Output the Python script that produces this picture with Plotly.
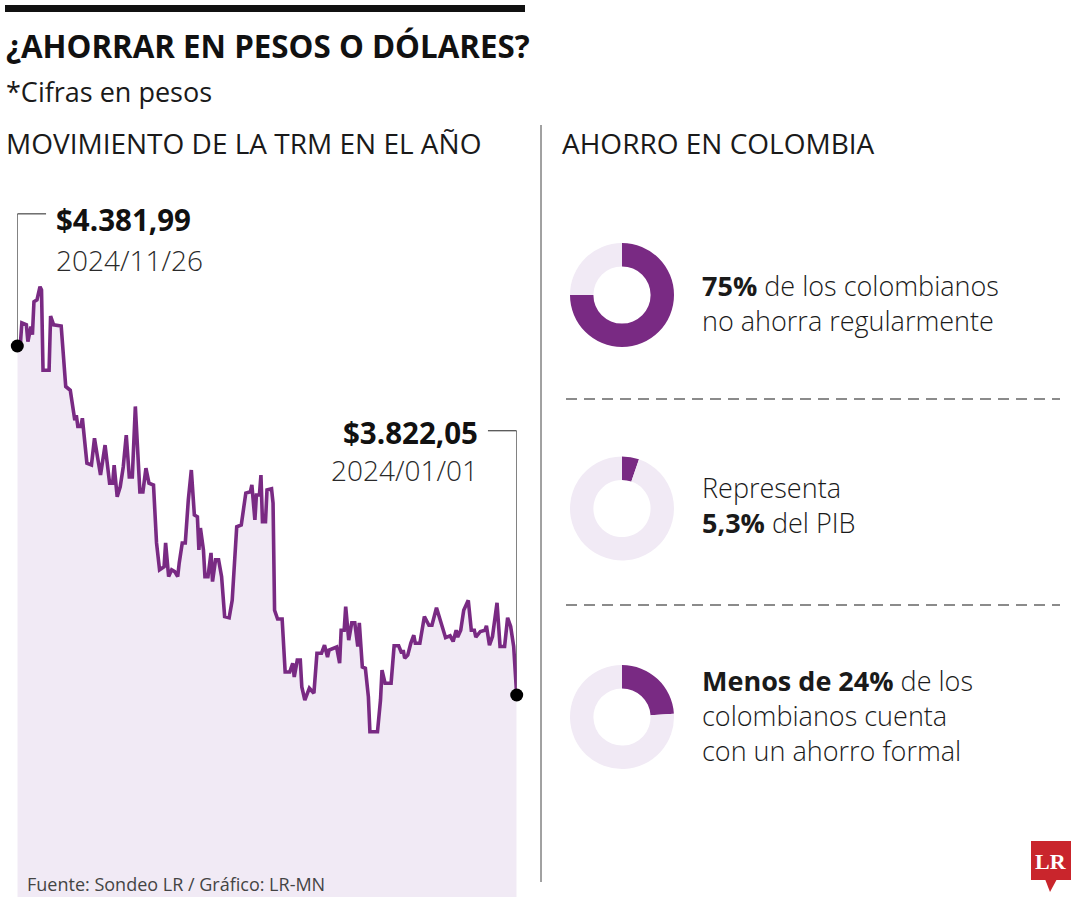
import pandas as pd
import plotly.graph_objects as go

# ---------------- data ----------------
# days since 2024-01-01 (left of chart = most recent date)
dias = [330, 328, 327, 324, 323, 321, 320, 319, 317, 315,
        314, 313, 309, 308, 306, 301, 298, 295, 292, 291,
        290, 288, 287, 284, 281, 279, 277, 275, 272, 269,
        267, 266, 264, 262, 260, 258, 256, 254, 252, 249,
        247, 245, 243, 240, 238, 236, 233, 232, 230, 228,
        226, 224, 223, 221, 219, 217, 215, 213, 211, 210,
        209, 207, 206, 204, 202, 201, 199, 197, 195, 193,
        190, 188, 185, 182, 179, 176, 175, 173, 172, 170,
        169, 168, 166, 165, 162, 161, 160, 158, 155, 154,
        153, 150, 148, 147, 145, 143, 142, 140, 137, 134,
        132, 129, 127, 125, 124, 119, 117, 116, 114, 113,
        111, 109, 107, 105, 104, 102, 100, 98, 97, 92,
        90, 89, 87, 83, 81, 78, 76, 75, 74, 72,
        70, 68, 67, 64, 62, 61, 58, 56, 53, 51,
        49, 47, 44, 42, 40, 39, 37, 35, 32, 30,
        28, 27, 24, 21, 20, 18, 16, 13, 11, 8,
        6, 4, 2, 0]

trm = [4381.99, 4384, 4419, 4416, 4389, 4413, 4400, 4453, 4456, 4477,
       4472, 4343, 4343, 4430, 4416, 4414, 4317, 4311, 4263, 4271,
       4253, 4253, 4266, 4194, 4191, 4234, 4204, 4175, 4223, 4162,
       4162, 4191, 4140, 4156, 4188, 4239, 4172, 4172, 4285, 4148,
       4148, 4186, 4162, 4159, 4066, 4023, 4028, 4066, 4012, 4023,
       4020, 4012, 4034, 4066, 4066, 4135, 4183, 4111, 4108, 4055,
       4090, 4055, 4012, 4012, 4050, 4004, 4039, 4039, 4012, 3948,
       3946, 3974, 4092, 4095, 4146, 4148, 4159, 4103, 4143, 4143,
       4175, 4100, 4100, 4151, 4153, 4130, 3958, 3944, 3944, 3900,
       3859, 3859, 3873, 3851, 3878, 3878, 3835, 3814, 3833, 3825,
       3889, 3889, 3902, 3883, 3894, 3899, 3873, 3926, 3926, 3964,
       3910, 3938, 3938, 3900, 3938, 3867, 3865, 3819, 3763, 3763,
       3814, 3862, 3841, 3841, 3901, 3901, 3889, 3894, 3881, 3886,
       3905, 3918, 3905, 3905, 3932, 3948, 3934, 3934, 3962, 3946,
       3932, 3914, 3917, 3908, 3926, 3915, 3926, 3958, 3974, 3926,
       3926, 3915, 3924, 3926, 3933, 3902, 3916, 3970, 3900, 3900,
       3946, 3932, 3900, 3822.05]

ahorro_pct = [75, 5.3, 24]
ahorro_txt = ["<b>75%</b> de los colombianos<br>no ahorra regularmente",
              "Representa<br><b>5,3%</b> del PIB",
              "<b>Menos de 24%</b> de los<br>colombianos cuenta<br>con un ahorro formal"]

titulo = "¿AHORRAR EN PESOS O DÓLARES?"
subtitulo = "*Cifras en pesos"
sec1 = "MOVIMIENTO DE LA TRM EN EL AÑO"
sec2 = "AHORRO EN COLOMBIA"
fuente = "Fuente: Sondeo LR / Gráfico: LR-MN"

# ---------------- styles ----------------
W, H = 1080, 900
PURPLE = "#792A83"
LIGHT = "#F1EAF5"
FONT = "Open Sans"

fechas = pd.Timestamp("2024-01-01") + pd.to_timedelta(dias, unit="D")


def px(x):
    return x / W


def py(y):
    return 1 - y / H


def fmt(v):
    s = f"{v:,.2f}"
    return "$" + s.replace(",", "X").replace(".", ",").replace("X", ".")


fig = go.Figure()

fig.add_trace(go.Scatter(
    x=fechas, y=trm, mode="lines",
    line=dict(color=PURPLE, width=3.6),
    fill="tozeroy", fillcolor=LIGHT,
    hoverinfo="skip", showlegend=False,
))

ends = [0, len(trm) - 1]
fig.add_trace(go.Scatter(
    x=[fechas[i] for i in ends], y=[trm[i] for i in ends], mode="markers",
    marker=dict(color="black", size=13),
    cliponaxis=False, hoverinfo="skip", showlegend=False,
))

# leader lines for endpoint labels
lvl_left = 4594
lvl_right = 4246
shapes = [
    dict(type="line", xref="x", yref="y", x0=fechas[0], x1=fechas[0],
         y0=trm[0], y1=lvl_left, line=dict(color="#222", width=1), layer="below"),
    dict(type="line", xref="x", yref="y", x0=fechas[0],
         x1=fechas[0] - pd.Timedelta(days=19),
         y0=lvl_left, y1=lvl_left, line=dict(color="#222", width=1)),
    dict(type="line", xref="x", yref="y", x0=fechas[-1], x1=fechas[-1],
         y0=trm[-1], y1=lvl_right, line=dict(color="#222", width=1), layer="below"),
    dict(type="line", xref="x", yref="y", x0=fechas[-1],
         x1=fechas[-1] + pd.Timedelta(days=19),
         y0=lvl_right, y1=lvl_right, line=dict(color="#222", width=1)),
    # top bar
    dict(type="rect", xref="paper", yref="paper", x0=px(5), x1=px(525),
         y0=py(12), y1=py(5), fillcolor="#111", line=dict(width=0)),
    # separator
    dict(type="line", xref="paper", yref="paper", x0=px(541), x1=px(541),
         y0=py(125), y1=py(882), line=dict(color="#444", width=1)),
    # dashed separators
    dict(type="line", xref="paper", yref="paper", x0=px(566), x1=px(1060),
         y0=py(399), y1=py(399), line=dict(color="#666", width=1.5, dash="11px,7px")),
    dict(type="line", xref="paper", yref="paper", x0=px(566), x1=px(1060),
         y0=py(605), y1=py(605), line=dict(color="#666", width=1.5, dash="11px,7px")),
    # LR logo
    dict(type="rect", xref="paper", yref="paper", x0=px(1031), x1=px(1071),
         y0=py(880), y1=py(841), fillcolor="#C9252C", line=dict(width=0)),
    dict(type="path", xref="paper", yref="paper",
         path=f"M {px(1045)} {py(879)} L {px(1057)} {py(879)} L {px(1050)} {py(892)} Z",
         fillcolor="#C9252C", line=dict(width=0)),
]

ann = []


def text(x, y, t, size, color="#1a1a1a", xanchor="left", weight=None, family=FONT):
    f = dict(family=family, size=size, color=color)
    if weight:
        f["weight"] = weight
    ann.append(dict(xref="paper", yref="paper", x=px(x), y=py(y), text=t,
                    showarrow=False, xanchor=xanchor, yanchor="middle", align="left",
                    font=f, borderpad=0))


text(5, 46, f"<b>{titulo}</b>", 31.3, "#111")
text(5, 91, subtitulo, 27, "#1a1a1a")
text(5, 143, sec1, 28, "#1a1a1a")
text(561, 143, sec2, 28, "#1a1a1a")

text(55, 219, f"<b>{fmt(trm[0])}</b>", 29.5, "#111")
text(55, 260, fechas[0].strftime("%Y/%m/%d"), 28, "#2a2a2a", weight=300)
text(479, 432, f"<b>{fmt(trm[-1])}</b>", 29.5, "#111", xanchor="right")
text(479, 470, fechas[-1].strftime("%Y/%m/%d"), 28, "#2a2a2a", xanchor="right", weight=300)

text(26, 884, fuente, 18, "#444")

block_y = [303, 505, 715]
for yc, t in zip(block_y, ahorro_txt):
    text(701, yc, t, 27, "#1a1a1a", weight=300)

ann.append(dict(xref="paper", yref="paper", x=px(1051), y=py(861), text="<b>LR</b>",
                showarrow=False, xanchor="center", yanchor="middle",
                font=dict(family="Liberation Serif", size=22, color="white")))

# donuts
donut_y = [(243, 347), (456, 561), (665, 769)]
for pct, (ya, yb) in zip(ahorro_pct, donut_y):
    fig.add_trace(go.Pie(
        values=[pct, 100 - pct], marker=dict(colors=[PURPLE, LIGHT], line=dict(width=0)),
        hole=0.55, sort=False, direction="clockwise", rotation=0,
        textinfo="none", hoverinfo="skip", showlegend=False,
        domain=dict(x=[px(570), px(674)], y=[py(yb), py(ya)]),
    ))

fig.update_layout(
    width=W, height=H,
    margin=dict(l=0, r=0, t=0, b=0),
    paper_bgcolor="white", plot_bgcolor="rgba(0,0,0,0)",
    xaxis=dict(domain=[px(17.3), px(516.7)], range=[fechas[0], fechas[-1]],
               visible=False, showgrid=False, zeroline=False),
    yaxis=dict(domain=[py(897), 1], range=[3498, 4937.1],
               visible=False, showgrid=False, zeroline=False),
    shapes=shapes, annotations=ann,
)

fig.write_html("out.html", config={"displayModeBar": False},
               post_script="document.body.style.margin='0';document.body.style.overflow='hidden';")
